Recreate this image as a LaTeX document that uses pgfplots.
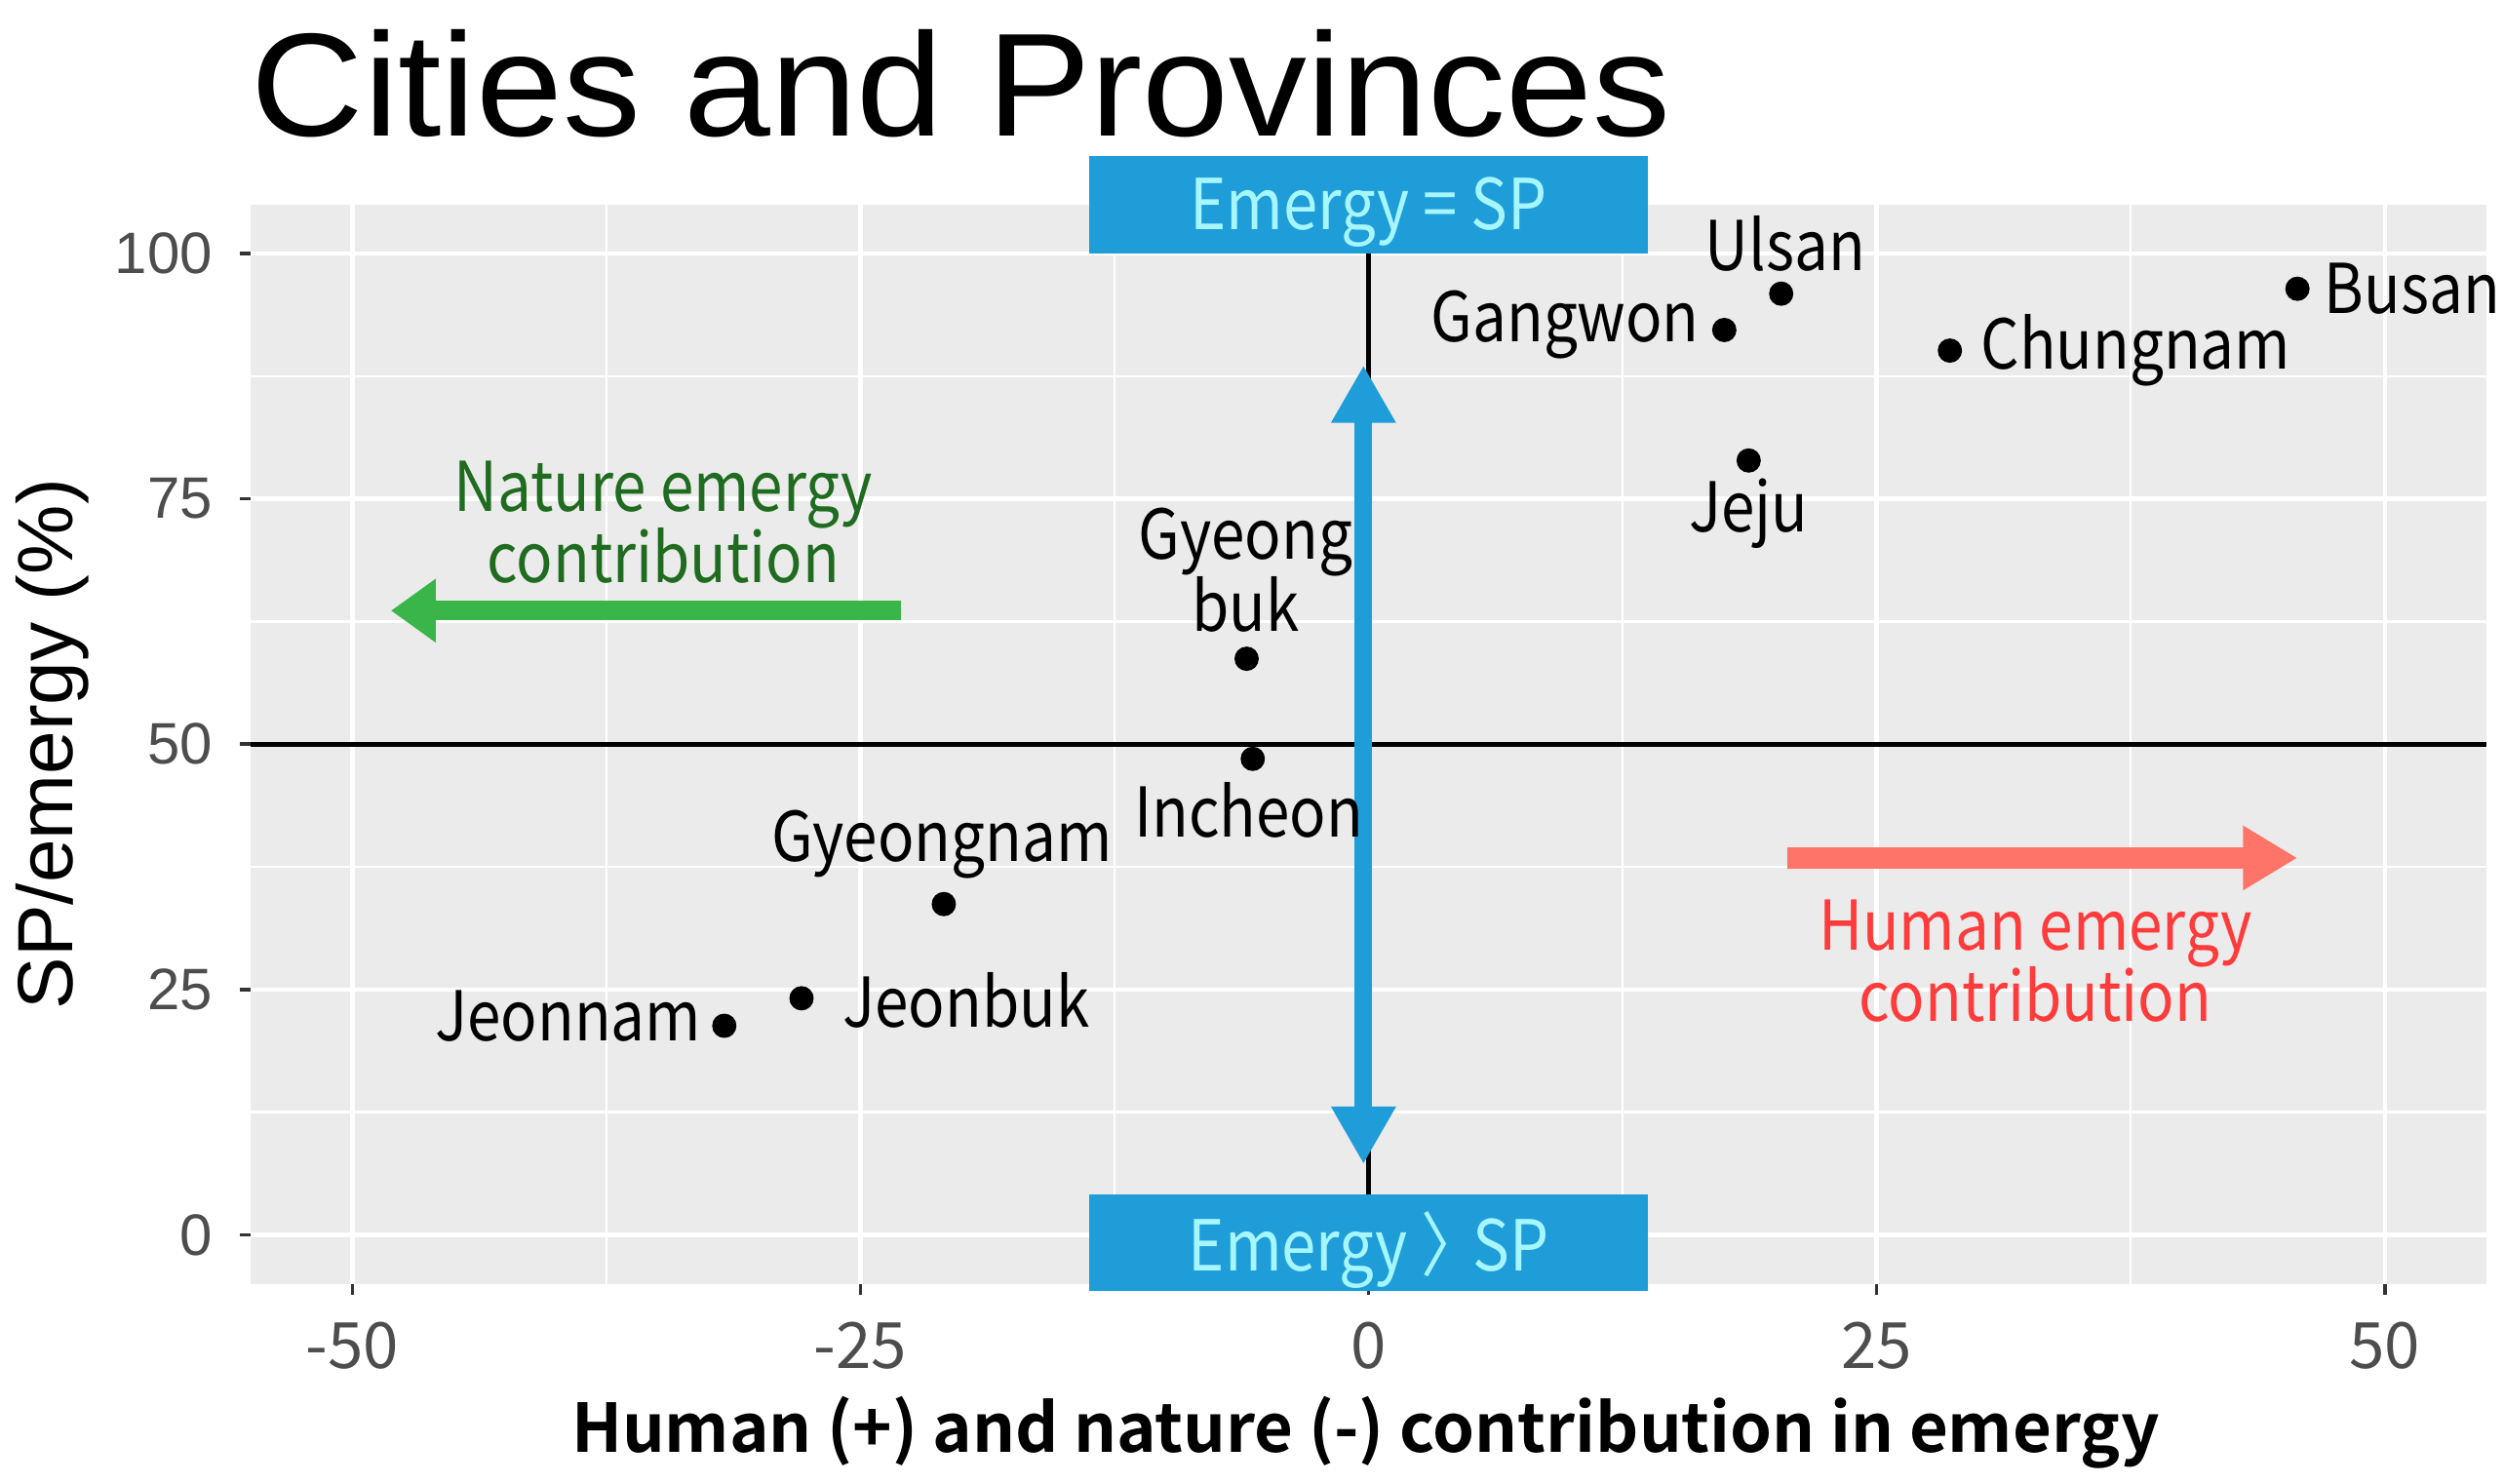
\documentclass[border=0pt]{standalone}
\usepackage{fontspec}
\setmainfont{Liberation Sans}
\newfontfamily\lab{Noto Sans CJK KR}[FakeStretch=0.88]
\newfontfamily\labb{Noto Sans CJK KR}[BoldFont={Noto Sans CJK KR Bold}]
\usepackage{pgfplots}
\pgfplotsset{compat=1.18}
\usetikzlibrary{arrows.meta}
\definecolor{panel}{HTML}{EBEBEB}
\definecolor{boxblue}{HTML}{1E9DD9}
\definecolor{boxtext}{HTML}{A6F6FF}
\definecolor{natgreen}{HTML}{3AB54A}
\definecolor{nattext}{HTML}{1F6B1F}
\definecolor{humred}{HTML}{FF7468}
\definecolor{humtext}{HTML}{FF3B3B}
\definecolor{tickgray}{HTML}{4D4D4D}
\newcommand{\labfont}{\lab\fontsize{21.5}{22.5}\selectfont}
\begin{document}
\begin{tikzpicture}
\useasboundingbox (0,0) rectangle (784pt,464.5pt);
\begin{axis}[
 at={(78.5pt,62.5pt)}, anchor=south west,
 width=700pt, height=338pt, scale only axis,
 xmin=-55, xmax=55, ymin=-5, ymax=105,
 clip=false,
 axis background/.style={fill=panel},
 axis line style={draw=none},
 xtick={-50,-25,0,25,50}, ytick={0,25,50,75,100},
 minor xtick={-37.5,-12.5,12.5,37.5}, minor ytick={12.5,37.5,62.5,87.5},
 grid=both,
 major grid style={white, line width=1.4pt},
 minor grid style={white, line width=0.7pt},
 tick pos=left, tick align=outside,
 major tick length=3.5pt, minor tick length=0pt,
 tick style={black!80, line width=1.1pt},
 xticklabel style={font=\labb\fontsize{20}{20}\selectfont, text=tickgray, yshift=-5pt},
 yticklabel style={font=\fontsize{18.3}{18.3}\selectfont, text=tickgray, xshift=-5pt},
 /pgf/number format/assume math mode=true,
]
% reference lines
\addplot[black, line width=1.5pt] coordinates {(-55,50) (55,50)};
\addplot[black, line width=1.5pt] coordinates {(0,0) (0,100)};
% arrows
\addplot[boxblue, line width=5.5pt, {Triangle[width=19pt,length=18pt]}-{Triangle[width=19pt,length=18pt]}] coordinates {(-0.25,7.2) (-0.25,88.6)};
\addplot[natgreen, line width=6pt, -{Triangle[width=19pt,length=14pt]}] coordinates {(-23.0,63.6) (-48.1,63.6)};
\addplot[humred, line width=6.5pt, -{Triangle[width=19pt,length=17pt]}] coordinates {(20.6,38.4) (45.7,38.4)};
% boxes
\fill[boxblue] (axis cs:-13.75,100) rectangle (axis cs:13.75,109.9);
\node[text=boxtext, font=\lab\fontsize{22}{22}\selectfont] at (axis cs:0,104.2) {Emergy = SP};
\fill[boxblue] (axis cs:-13.75,-5.7) rectangle (axis cs:13.75,4.07);
\node[text=boxtext, font=\lab\fontsize{22}{22}\selectfont] at (axis cs:0,-1.6) {Emergy 〉\hspace{-0.15em}SP};
% points
\addplot[only marks, mark=*, mark size=3.6pt, black] coordinates {
 (45.7,96.4) (20.3,95.9) (17.5,92.2) (28.6,90.1) (18.7,78.9)
 (-6.0,58.7) (-5.7,48.5) (-20.9,33.7) (-27.9,24.1) (-31.7,21.3)};
% labels
\node[font=\labfont, anchor=west, inner sep=0] at (axis cs:47.0,96.4) {Busan};
\node[font=\labfont, inner sep=0] at (axis cs:20.5,101.0) {Ulsan};
\node[font=\labfont, anchor=east, inner sep=0] at (axis cs:16.3,92.7) {Gangwon};
\node[font=\labfont, anchor=west, inner sep=0] at (axis cs:30.1,90.1) {Chungnam};
\node[font=\labfont, inner sep=0] at (axis cs:18.7,73.5) {Jeju};
\node[font=\labfont, inner sep=0, align=center] at (axis cs:-6.05,67.7) {Gyeong\\buk};
\node[font=\labfont, inner sep=0] at (axis cs:-5.9,43.3) {Incheon};
\node[font=\labfont, inner sep=0] at (axis cs:-21.0,39.8) {Gyeongnam};
\node[font=\labfont, anchor=west, inner sep=0] at (axis cs:-25.9,23.9) {Jeonbuk};
\node[font=\labfont, anchor=east, inner sep=0] at (axis cs:-32.8,22.3) {Jeonnam};
\node[font=\labfont, text=nattext, inner sep=0, align=center] at (axis cs:-34.7,72.6) {Nature emergy\\contribution};
\node[font=\labfont, text=humtext, inner sep=0, align=center] at (axis cs:32.8,27.9) {Human emergy\\contribution};
\end{axis}
\node[anchor=base west, inner sep=0] at (78.5pt,422pt) {\scalebox{1.06}[1]{\fontsize{46}{46}\selectfont Cities and Provinces}};
\node[font=\labb\bfseries\fontsize{21}{21}\selectfont, inner sep=0] at (427.5pt,16pt) {Human (+) and nature (-) contribution in emergy};
\node[rotate=90, font=\fontsize{24.5}{24.5}\selectfont, inner sep=0] at (16.5pt,231.5pt) {SP/emergy (\%)};
\end{tikzpicture}
\end{document}
